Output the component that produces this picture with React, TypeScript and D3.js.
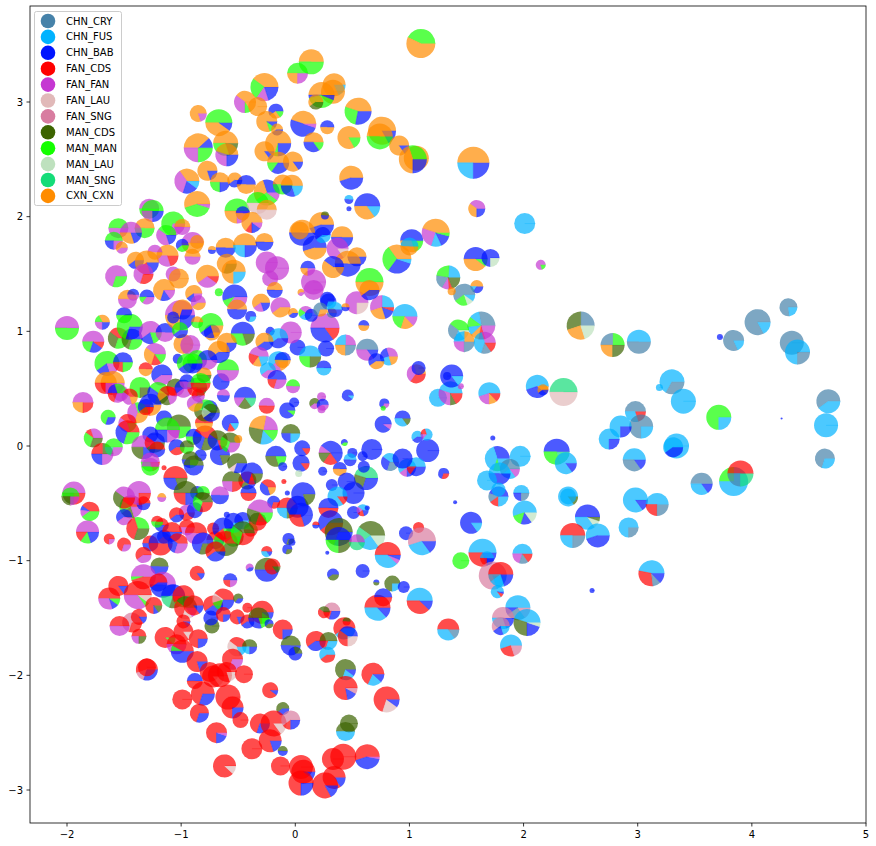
import React from "react";
import * as d3 from "d3";

const categories = ["CHN_CRY","CHN_FUS","CHN_BAB","FAN_CDS","FAN_FAN","FAN_LAU","FAN_SNG","MAN_CDS","MAN_MAN","MAN_LAU","MAN_SNG","CXN_CXN"];
const codes = ["A","F","B","R","P","L","S","D","G","W","T","O"];
const colours = ["#4682A9","#00B2FF","#0014FF","#FF0000","#C537D2","#E1B9B9","#D87CA0","#3C6400","#14FF00","#BEE1BE","#14DC78","#FF8C00"];
const xTicks = [-2,-1,0,1,2,3,4,5];
const yTicks = [-3,-2,-1,0,1,2,3];

type Row = [number, number, number, string];

// each row: x, y, weight, composition (code + share, anticlockwise from 3 o'clock)
const denseExtra: Row[] = [
[-1.59,-.01,9,"G50T20P30"],[-1.47,.12,12,"R40B30G30"],[-1.33,-.01,12,"P50D25B25"],[-1.23,.03,10,"B40R20D40"],[-1.21,-.03,8,"R50B50"],[-1.04,-.01,8,"B60R40"],[-.95,-.01,7,"D50G50"],[-1.27,-.14,9.5,"P50G30R20"],[-.92,-.12,8.5,"D50B25G25"],[-.68,.05,10,"D40B40R20"],[-.57,.03,10,"D40G30P30"],[-.50,.06,4,"O100"],[-.95,.72,10,"G60B40"],[-.89,1.33,8.5,"O60B20P20"],[-.85,1.25,7.5,"P60O40"],[-.86,1.08,6,"O50G50"],[-1.01,1.01,8,"G60B40"],[-1.07,1.12,6,"B100"],[-1.31,.34,8,"B60R40"],[-1.12,.44,9.5,"R40O20D20P20"],[-.95,.56,7.5,"B50P50"],[-.83,.55,10,"G50R50"],[-.85,.44,6.5,"R60P40"],[-.88,.37,8,"P60O40"],[-.74,.29,9,"D40W20B40"],[-1.56,.46,9.5,"G30B20R20P30"],[-1.45,.43,8,"R40P40O20"],[-.95,-.58,8,"P60R40"],[-.86,-.41,7,"B50G50"],[-.81,-.41,7,"G50D50"],[-.42,-.30,9,"R60D20B20"],[-.46,-.65,8.5,"B60F40"],[-.39,-.73,7,"G50R50"],[-.33,-.66,9,"D50R50"],[-.72,-.72,6,"R100"],[-1.17,-.69,7,"R50B50"],[-.95,-.71,8,"R50P50"],[-1.15,-.79,7,"B60R40"],[-1.27,-.85,8,"R50B50"],[-.54,-.79,10,"R60G20D20"],[-.70,-.82,9,"R50L20B30"],
];
const denseLower: Row[] = [
[-1.94,-.41,11.5,"P50D25R25"],[-1.97,-.44,9,"G50D25P25"],[-1.80,-.57,9.5,"R40B8P12G40"],[-1.82,-.75,11.5,"P50R15G15B20"],[-1.63,-.81,5.5,"R75P25"],[-1.17,-.45,4.5,"O50P50"],[-1.44,-.53,11.5,"R40G20D20P20"],[-1.33,-.50,7,"R50B50"],[-1.50,-.62,8,"B60P40"],[-1.38,-.72,11.5,"G30R40D30"],[-1.21,-.66,6,"R50G50"],[-1.08,-.75,10,"R50B50"],[-1.04,-.60,7.5,"R60B40"],[-.88,-.56,8,"B100"],[-.87,-.76,11,"R50P50"],[-.81,-.85,11,"B70D30"],[-1.18,-.85,12,"B50R50"],[-1.50,-.86,7,"R70P30"],[-1.03,-.85,10,"R40B30P30"],[-.06,-.81,6,"B70D30"],[-1.27,-.18,9,"P50G50"],[-1.37,-.41,12,"P75R25"],[-1.50,-.45,11,"P40D30R30"],
[-1.05,-.28,12,"R50B30D20"],[-.96,-.41,12,"D50R25B25"],[-.81,-.49,10,"D40G30R30"],[-.89,-.17,10,"D50B50"],[-.66,-.43,9,"P50B50"],[-.60,-.60,3,"B100"],[-1.15,-.19,2.5,"R100"],[-.55,-.31,10.5,"D50P25R25"],[-.38,-.24,11,"B70R10D20"],[-.51,-.15,10,"D60L10B30"],[-.41,-.41,8,"B50R50"],[-.24,-.36,8,"R40B40O20"],[-.07,-.41,2.5,"B100"],[-.10,-.31,2.5,"R100"],[-.19,-.49,6.5,"B70R30"],[-.31,-.58,13,"P45D25R15G15"],[-.07,-.54,10.5,"R50F25D25"],[.02,-.53,11,"B100"],[-.54,-.67,10,"B70F30"],[-.63,-.72,11,"B60R20G20"],[-.61,-.85,12.5,"R40G25D35"],[-.46,-.76,12,"D40G30R30"],[-.70,-.92,10,"R60B40"],[-1.33,-.95,8,"R60P40"],
];
const lowerLeft: Row[] = [
[-1.19,-1.05,9,"D50B50"],[-.86,-1.11,7.5,"R85B15"],[-.57,-1.17,7,"B50R25P25"],[-.25,-1.08,12,"D50B50"],[-.20,-1.05,8,"R85D15"],[-.40,-1.06,4,"P60B40"],[-.25,-.92,5.5,"R50F35B15"],[-.07,-.90,5,"B70D30"],[-1.33,-1.14,12.5,"P50G5R45"],[-1.55,-1.22,10,"R85B15"],[-1.63,-1.33,11,"R50P30B10G10"],[-1.38,-1.30,14,"R50P35G5L10"],[-1.16,-1.21,13,"P50B50"],[-1.20,-1.19,9,"R60B40"],[-1.43,-1.54,10,"S70R30"],[-1.37,-1.49,8,"R85B15"],[-1.54,-1.57,10,"R50P50"],[-1.37,-1.66,7.5,"R50P25D25"],[-1.24,-1.39,8.5,"R75B10D15"],[-1.07,-1.31,12,"B50T20D15R15"],[-.98,-1.31,11,"R60G15D25"],[-.96,-1.41,11.5,"D40R30L15P15"],[-.89,-1.39,10,"R85B15"],[-1.14,-1.67,10.5,"R90G10"],[-1.04,-1.73,10,"R50P50"],[-.99,-1.79,11.5,"R42G8B50"],[-.98,-1.53,7,"R85B15"],[-.98,-1.62,10,"R85L15"],[-.85,-1.68,9.5,"R75B25"],[-.73,-1.57,7.5,"D100"],[-.74,-1.50,7.5,"B100"],[-.72,-1.39,10,"R60B40"],[-.63,-1.34,11,"R40L15G15B30"],[-.63,-1.47,7.5,"R75B25"],[-.50,-1.33,5,"D65B35"],[-.51,-1.49,7.5,"R80B20"],[-.42,-1.41,5,"R100"],[-.42,-1.53,7,"R60B40"],[-.29,-1.45,11.5,"R75G15B10"],[-.32,-1.50,10.5,"D50B30G20"],[-.23,-1.55,4.5,"B60D40"],[-.11,-1.60,10,"R75B25"],[-.51,-1.75,9.5,"R40L40F20"],[-.40,-1.75,7.5,"D50F25B25"],[-.55,-1.86,10.5,"R70P30"],[-.86,-1.88,10.5,"R80B20"],[-1.30,-1.95,11,"R55S15B30"],[-1.30,-1.93,9,"R100"],[-.75,-1.97,10,"R100"],[-.72,-2.01,11,"R85L15"],[-.66,-2.0,12,"R100"],[-.60,-1.97,10,"R80L20"],[-.45,-1.99,9,"R100"],[-.88,-2.05,8,"B50R50"],[-.81,-2.16,12,"R70B30"],[-.99,-2.21,10,"R100"],[-.59,-2.19,12.5,"R100"],[-.55,-2.28,11,"R75B25"],[-.84,-2.33,9.5,"R70B30"],[-.48,-2.39,8,"R100"],[-.22,-2.13,8,"R90B10"],[-.11,-2.29,6.5,"D60B40"],[-.31,-2.42,10,"R70B30"],[-.19,-2.42,13,"R85L15"],[-.22,-2.57,11.5,"R80B20"],[-.11,-2.66,5,"D50B50"],[-.38,-2.64,10.5,"R100"],[-.69,-2.50,10.5,"R75B20P5"],[-.62,-2.79,11.5,"R88L12"],[-.13,-2.79,9.5,"R100"],
];
const lowerRight: Row[] = [
[1.64,-.93,14,"F50R30B20"],[1.68,-.98,7,"F50R25B25"],[1.99,-.94,10,"F50P20A15R15"],[1.45,-1.0,8.5,"G100"],[1.73,-1.13,14,"S80F20"],[1.80,-1.12,12.5,"R50A10F20B20"],[1.77,-1.27,6.5,"F85R10B5"],[1.95,-1.41,12.5,"F50B10A25S15"],[2.03,-1.54,13.5,"F45D30B20W5"],[1.82,-1.50,11,"S50F30B20"],[1.80,-1.57,9,"S60B20F20"],[1.89,-1.74,11,"F55R25S20"],[1.34,-1.60,11,"R50F35A15"],[1.09,-1.35,13,"F50R38B12"],[.59,-1.09,7,"B100"],[.33,-1.12,6,"B60D40"],[.71,-1.19,3,"B50D50"],[.85,-1.20,8,"D75F25"],[.95,-1.23,6,"B100"],[.72,-1.41,13,"R50F37B13"],[.77,-1.32,9,"B50R50"],[.43,-1.59,11,"R60F40"],[.45,-1.53,4,"D50R50"],[.46,-1.66,10,"B40R35L25"],[.32,-1.44,8.5,"S50R20B30"],[.25,-1.45,6,"D40R60"],[.18,-1.70,10,"R60B40"],[.29,-1.70,9,"D50R20F30"],[.28,-1.82,8,"F60R40"],[-.04,-1.74,10,"D50B50"],[0,-1.81,7,"D30B70"],[.44,-1.95,10.5,"D70F20B10"],[.68,-1.99,11.5,"R68F20B12"],[.44,-2.11,12,"R78B14S8"],[.80,-2.21,13,"R70L20B10"],[.47,-2.42,9,"D100"],[.44,-2.49,9.5,"D50F50"],[.63,-2.71,12.5,"R55B42P3"],[.42,-2.71,13,"R100"],[.33,-2.73,11,"R100"],[.34,-2.89,11.5,"R85B15"],[.26,-2.96,13,"R83B17"],[.05,-2.80,12,"R100"],[.07,-2.84,12,"R90B10"],[.05,-2.94,12.5,"R75B25"],[-.04,-2.39,9.5,"S60R15B25"],
];
const centre: Row[] = [
[1.16,-.04,11.5,"B100"],[.98,-.19,9,"F60P15B25"],[1.06,-.18,9.5,"F50R15B35"],[.83,-.14,9,"F40B30A30"],[.94,-.11,10,"B100"],[.94,.24,8,"B50F35D15"],[.77,.19,8.5,"B90P10"],[.78,.37,5,"B70P30"],[.77,.33,2.5,"G100"],[.46,.44,6,"B90F10"],[.17,.37,5.5,"D60P40"],[.23,.43,4.5,"P100"],[.24,.36,6,"B60P40"],[.23,.32,4,"P100"],[1.07,.08,6,"F60B40"],[1.15,.10,6,"F30R20P15F35"],[.67,-.03,10.5,"B100"],[.50,-.06,5,"B100"],[.48,-.12,6.5,"F50B50"],[.59,-.09,5,"B100"],[.43,.03,3.5,"B60G40"],[.31,-.06,12,"B40P10D15R20B15"],[.06,-.02,8,"B85R15"],[.05,-.15,8.5,"B85R15"],[.39,-.20,7,"B50O50"],[.24,-.22,4.5,"B100"],[.03,-.24,3.5,"W100"],[.62,-.28,12,"T45D25B30"],[.60,-.18,6,"B100"],[.45,-.31,9,"B100"],[.32,-.34,6,"B100"],[.51,-.41,11,"B100"],[.07,-.42,12,"B80D20"],[.05,-.60,12,"B50R30B20"],[.37,-.44,10,"F85R15"],[.29,-.54,10,"B50R50"],[.31,-.67,12.5,"B60R40"],[.38,-.75,14,"D70B30"],[.38,-.82,13,"B50G25D25"],[.51,-.58,6.5,"B100"],[.59,-.56,6,"F40P20R20B20"],[.63,-.54,2.5,"B100"],[.18,-.69,3.5,"R50B50"],[.66,-.78,14.5,"D40T20F25W15"],[.97,-.76,7,"B100"],[1.08,-.71,5.5,"R100"],[1.11,-.83,14,"S55F30B15"],[.28,-.93,2,"B100"],[.81,-.95,13,"R50F38P6B6"],[.54,-.84,8,"P50T50"],[-.03,-.84,3.5,"B100"],[1.30,-.24,5.5,"B70R30"],[1.40,-.49,2,"B100"],[1.54,-.67,11,"B85F15"],[1.25,.42,9,"F100"],[1.36,.46,12,"F45P30D8R17"],[1.45,.52,3,"P100"],[1.37,.61,11.5,"B85F15"],[1.33,.61,4,"B100"],[1.06,.63,9.5,"O30P35R35"],[1.08,.68,7,"B100"],[1.70,.46,11,"F55P20O12R13"],[2.12,.52,11.5,"F55B35O10"],[2.17,.49,5.5,"O60B40"],[2.35,.47,14,"T50L50"],[1.73,.07,2.5,"B100"],[1.77,-.11,12.5,"B30F40G10F20"],[1.97,-.09,10.5,"F100"],[2.29,-.05,13,"B50G30T20"],[2.37,-.15,11,"F85B15"],[1.88,-.20,10,"A60F25P15"],[1.79,-.24,11,"F50B50"],[1.68,-.30,10,"F100"],[1.78,-.44,10,"B45A15R15F25"],[1.78,-.38,7,"F100"],[1.98,-.41,8,"F50B25A25"],[2.01,-.58,12,"F55G15B15W15"],[2.39,-.44,10,"F85D15"],[2.39,-.44,8,"F100"],
];
const farRight: Row[] = [
[2.50,1.05,14,"A25D30O25W20"],[2.78,.88,12,"G25A25O25D25"],[3.01,.91,12,"F50A50"],[4.32,1.21,9,"A77F23"],[4.05,1.08,13,"A83F17"],[3.84,.92,10.5,"A82F18"],[3.72,.95,3,"B100"],[4.35,.90,12,"A100"],[4.40,.82,12.5,"F75A25"],[3.30,.56,12.5,"F67A33"],[3.19,.51,3.5,"F100"],[3.40,.39,12.5,"F100"],[3.71,.25,12.5,"G75F25"],[4.67,.39,12,"A60F40"],[4.65,.18,12,"F100"],[4.26,.24,1,"B100"],[4.64,-.11,10,"A70F30"],[2.98,.30,10.5,"A50F30R20"],[3.03,.17,12,"A75F25"],[2.85,.17,11,"F75B25"],[2.75,.06,10.5,"F75B25"],[3.34,0,12.5,"F100"],[3.31,-.01,10,"F60B40"],[2.97,-.12,11.5,"F50A35B15"],[3.56,-.33,11,"A50F35B15"],[3.84,-.31,14.5,"F25G25F50"],[3.90,-.24,13,"R50A25T25"],[2.98,-.47,12.5,"F85B15"],[3.17,-.51,11.5,"F50R25A25"],[2.56,-.62,12.5,"B50F35W10D5"],[2.65,-.78,12,"F55B45"],[2.43,-.78,12.5,"R50F25A25"],[2.92,-.71,10,"F75A25"],[3.12,-1.11,13,"F47R30A10B13"],[2.60,-1.26,2.5,"B100"],
];
const upperRight: Row[] = [
[1.10,3.51,14.5,"G43O57"],[.14,3.35,12.5,"O50G50"],[.02,3.25,10.5,"G50O25P25"],[.34,3.15,11.5,"O82F18"],[.33,3.09,12,"O100"],[.23,3.06,13,"O50B4G40B6"],[.18,3.0,7.5,"O60D40"],[.55,2.92,13.5,"O45G27B28"],[.07,2.81,13,"O45B50P5"],[.28,2.78,7,"B50O50"],[.47,2.69,11.5,"O83G17"],[.76,2.75,14,"O83B17"],[.74,2.70,13,"O50G50"],[.91,2.62,10,"O85B15"],[1.06,2.51,12.5,"O100"],[1.03,2.50,14,"G30O45B25"],[1.56,2.47,16,"O50F25B25"],[.16,2.65,10,"O50B35G15"],[-.02,2.48,10,"O85B15"],[.49,2.34,12,"O55B45"],[-.03,2.27,11,"O50B30F20"],[.63,2.09,13,"B50O35F15"],[.47,2.15,4.5,"F50B50"],[.47,2.07,2.5,"B100"],[1.59,2.07,8.5,"P40O35B25"],[2.01,1.94,10.5,"F100"],[2.15,1.58,5,"P80G20"],[.23,1.93,12.5,"O55B45"],[.26,2.01,4,"D50B50"],[.06,1.86,13,"O50B50"],[.04,1.88,9,"O100"],[.17,1.73,12,"B55O45"],[.24,1.84,8,"B60F40"],[.41,1.82,11,"O50B50"],[.37,1.72,11,"P85L15"],[1.02,1.79,11.5,"B50O30G20"],[1.0,1.74,9,"F50O50"],[.89,1.63,14.5,"O35G30B30F5"],[.54,1.65,9.5,"O50B50"],[.46,1.59,13,"O50B50"],[.33,1.56,11,"B40O60"],[.65,1.43,14,"G50O50"],[.16,1.43,12.5,"P100"],[.11,1.55,7.5,"B50O25P25"],[.05,1.34,3.5,"O60P40"],[.28,1.28,7.5,"B100"],[1.23,1.86,14,"O45P25F12B14G4"],[1.58,1.63,12,"B50O40G10"],[1.71,1.64,9,"B75W25"],[1.34,1.47,12,"F25G25A20P10R5D20"],[1.59,1.39,6.5,"O50F15B35"],[1.48,1.32,11,"A60G20W10F10"],[1.37,1.35,4,"O100"],[1.63,1.05,14,"A28F12G12F10O10R8P20"],[1.43,1.01,10.5,"G40A30F15W15"],[1.48,.91,10.5,"O25F25P25A25"],[1.66,.90,11,"P30F40A15R15"],[.96,1.13,12.5,"F50G20O17P13"],[.76,1.21,12,"F25P30O25B15R5"],[.54,1.25,11.5,"P75L25"],[.63,.84,11,"A50P35B15"],[.44,.88,10.5,"P25F25O25A25"],[.26,1.03,14.5,"P50B35R15"],[.27,.85,8,"B100"],[.02,.86,8,"B100"],[-.04,.99,11,"P100"],[.60,1.05,5.5,"B50O50"],[.13,.78,11,"F50G25D25"],[.25,.68,7.5,"B50F50"],[.82,.78,9,"P30B25F25O20"],[.71,.74,8,"B60O40"],[.09,1.16,7,"P40G20F40"],[.14,1.14,6.5,"B100"],[.29,1.26,8,"B70F30"],[.22,1.19,7,"A70O30"],[.32,1.16,5,"O50A50"],[.35,1.19,7.5,"F50B50"],[.44,1.21,4,"O50B50"],[-.02,1.16,5,"O60B40"],[.16,1.36,10,"P100"],[.65,1.36,10,"O60B40"],
];
const upperLeft: Row[] = [
[-.27,3.13,14,"O40G25P15B20"],[-.44,3.0,11,"O40P35G10O15"],[-.85,2.90,8.5,"O80P20"],[-.67,2.82,13.5,"G50O40B10"],[-.33,2.96,9.5,"O100"],[-.17,2.92,7.5,"B60O25G15"],[-.25,2.83,10.5,"O80G10B10"],[-.16,2.76,6,"O60B40"],[-.85,2.60,14.5,"B12O38P25G25"],[-.61,2.64,12.5,"O50G30D20"],[-.60,2.54,11.5,"O45P30B25"],[-.77,2.40,10,"O80B20"],[-.27,2.57,10,"O85B15"],[-.15,2.64,13,"O70G5B25"],[-.15,2.47,11,"O50G15B35"],[-.95,2.31,12.5,"O35P35B20F10"],[-.66,2.30,10,"O50G25B25"],[-.53,2.32,7.5,"O60B40"],[-.43,2.28,9.5,"B50O50"],[-.86,2.11,13,"O55G40P5"],[-.25,2.21,13,"B30O30G30P10"],[-.11,2.28,10,"O50G50"],[-.51,2.05,12.5,"G50O25P25"],[-.46,2.03,7,"B50O50"],[-.33,2.12,11,"G50L50"],[-.38,1.95,10.5,"O65R10B15P10"],[-.25,2.06,10,"O50L50"],[-1.28,2.07,10,"P50G50"],[-1.25,2.05,11,"G50P25B25"],[-1.55,1.90,10,"G50P50"],[-1.32,1.90,10,"O50G50"],[-1.44,1.86,11,"P50O30B20"],[-1.07,1.94,12,"G70P30"],[-.99,1.91,8,"O50P50"],[-1.13,1.84,10,"G40P40B20"],[-1.59,1.79,9,"G50B25P25"],[-1.52,1.73,6,"O60P40"],[-1.40,1.62,8.5,"O60B40"],[-.90,1.77,11,"P50O50"],[-.86,1.78,7,"O100"],[-.99,1.75,6.5,"B60G40"],[-1.12,1.66,11,"O50P30R20"],[-1.23,1.69,7.5,"P50O50"],[-1.30,1.60,12,"O60R20B20"],[-1.33,1.50,10,"P70R30"],[-1.57,1.48,11,"P70G30"],[-.90,1.65,8,"O50P50"],[-.61,1.73,10,"O50B50"],[-.73,1.71,4,"O50B50"],[-.44,1.75,12,"O50F25B25"],[-.27,1.78,9,"O50B50"],[-.60,1.59,10,"O70D30"],[-.54,1.52,12,"O75F25"],[-.77,1.48,11.5,"O60P30R10"],[-1.07,1.50,7.5,"P100"],[-1.02,1.46,10,"O100"],[-.25,1.60,11,"P100"],[-.16,1.55,12,"P100"],[-.22,1.46,8,"P100"],
];
const denseUpper: Row[] = [
[-2.0,1.03,12,"P50G50"],[-1.69,1.08,7.5,"O33G17P25B25"],[-1.77,.91,11,"P50G20B20R10"],[-1.65,.72,12.5,"G60B20P20"],[-1.55,.94,10.5,"R40D30G30"],[-1.43,.93,10.5,"B40D30G30"],[-1.45,1.04,13,"G70B30"],[-1.50,1.14,8,"B50G50"],[-1.47,1.28,9.5,"O50P50"],[-1.42,1.32,6,"B50P50"],[-1.30,1.30,7.5,"B50G15P35"],[-1.31,.67,7,"R50O50"],[-1.51,.73,10,"B50R25G25"],[-1.27,.99,11.5,"P60B20G20"],[-1.23,.80,11,"P40O30R15G15"],[-1.14,.99,9.5,"B50P50"],[-1.01,1.14,15,"P50O25B25"],[-.99,1.19,10,"O70B30"],[-1.15,1.36,11,"O70B15P15"],[-1.03,.76,5,"B100"],[-.98,.89,10,"O100"],[-.92,.88,10,"P100"],[-1.17,.62,10.5,"B60P40"],[-1.60,.55,12,"O50R25P25"],[-1.66,.55,11,"O50R25P25"],[-1.86,.38,10.5,"P50O25R25"],[-1.64,.25,7.5,"G70B30"],[-1.77,.07,9.5,"P30R10G30D30"],[-1.69,-.07,11,"D25R25B25P25"],[-1.53,.46,8,"P100"],[-1.36,.51,10.5,"G75D25"],[-1.20,.46,11,"G40B30D30"],[-1.27,.36,11,"B50R25O25"],[-1.38,.29,10.5,"G30P40O30"],[-1.47,.20,9,"R40P40G20"],[-1.05,.51,9,"D50R25P25"],[-.98,.50,9,"B60P40"],[-.86,.51,10,"G50R25D25"],[-1.15,.24,8,"B60P40"],[-1.02,.17,12,"D50P25G25"],[-1.12,.14,12.5,"G50B25P25"],[-1.27,.10,8,"B100"],[-.89,.08,8,"B50G25D25"],[-.79,.07,12.5,"R40B30D30"],[-.66,-.08,10,"B80D20"],[-.57,.20,8.5,"B70R15F15"],[-.83,-.08,6,"B100"],[-.80,.20,9,"R50O50"],[-.75,.33,8,"B100"],[-.79,.31,11,"G50D50"],[-.65,.56,8.5,"B100"],[-.59,.66,11,"G50P50"],[-.63,.44,6.5,"P50B50"],[-.73,.99,8,"B60O40"],[-.74,1.05,12.5,"G60B20O20"],[-.46,.98,12,"B50G30D20"],[-.60,.90,10,"O75B25"],[-.67,.82,11,"O60B40"],[-.86,.75,10,"G50B50"],[-.77,.75,10,"B50P50"],[-.80,.62,7.5,"O50D50"],[-.90,.72,10,"G70B30"],[-.53,1.30,12.5,"B55G10P35"],[-.51,1.19,10,"O50B50"],[-.30,1.25,9,"O60P20B20"],[-.39,1.13,5.5,"B70F30"],[-.13,1.21,10,"P60O40"],[-.18,1.36,8,"O50B50"],[-.67,1.34,4,"G100"],[-.22,1.0,4.5,"B100"],[-.15,.94,10,"F60B40"],[-.27,.91,9,"O60B40"],[-.32,.78,10,"P45R20O15F20"],[-.15,.74,10,"F60P20O20"],[-.11,.75,8,"B50O50"],[-.24,.66,8,"F60P40"],[-.16,.58,9.5,"B50R20P30"],[-.02,.52,7,"G50P50"],[-.44,.42,11,"B50P15D20T15"],[-.25,.35,8,"P50R50"],[-.07,.31,8,"B90G10"],[-.01,.38,5,"B100"],[-.28,.14,14.5,"P22O25D25F15G13"],[-.04,.11,9.5,"D50B25F25"],[-.17,-.09,10.5,"B50D30G20"],[-.11,-.18,4.5,"B100"],
];
const groups = [upperLeft, upperRight, denseUpper, denseExtra, denseLower, lowerLeft, lowerRight, centre, farRight];

const W = 876, H = 846;
const x = d3.scaleLinear().domain([-2, 5]).range([67, 866]);
const y = d3.scaleLinear().domain([-3, 3]).range([790, 102]);
const r = d3.scaleLinear().domain([0, 20]).range([0, 20]);
const arc = d3.arc<any>().innerRadius(0);
const colourOf = d3.scaleOrdinal<string, string>().domain(codes).range(colours);

function parseMix(m: string) {
  return Array.from(m.matchAll(/([A-Z])(\d+)/g)).map((t) => ({ code: t[1], share: +t[2] }));
}

function Pie({ row }: { row: Row }) {
  const [px, py, w, mix] = row;
  const parts = parseMix(mix);
  const total = d3.sum(parts, (p) => p.share);
  const R = r(w);
  const cum = Array.from(d3.cumsum(parts, (p) => p.share));
  return (
    <g transform={`translate(${x(px)},${y(py)})`}>
      {parts.map((p, i) => {
        const a0 = ((i ? cum[i - 1] : 0) / total) * 2 * Math.PI;
        const a1 = (cum[i] / total) * 2 * Math.PI;
        const d = arc({ outerRadius: R, startAngle: Math.PI / 2 - a0, endAngle: Math.PI / 2 - a1 });
        const c = colourOf(p.code);
        return (
          <g key={i}>
            <path d={d as string} fill={c} fillOpacity={0.7} />
            <line x1={0} y1={0} x2={R * Math.cos(a0)} y2={-R * Math.sin(a0)} stroke={c} strokeOpacity={0.45} strokeWidth={0.7} />
          </g>
        );
      })}
    </g>
  );
}

const font = "'DejaVu Sans', sans-serif";

export default function App() {
  return (
    <svg width={W} height={H} style={{ position: "absolute", left: 0, top: 0, background: "#fff" }} fontFamily={font} fontSize={10}>
      <defs>
        <clipPath id="plot"><rect x={30} y={6} width={836} height={817} /></clipPath>
      </defs>
      <g clipPath="url(#plot)">
        {groups.map((g, gi) => <g key={gi}>{g.map((row, i) => <Pie key={i} row={row} />)}</g>)}
      </g>
      <rect x={30} y={6} width={836} height={817} fill="none" stroke="#000" strokeWidth={0.8} />
      {xTicks.map((t) => (
        <g key={t} transform={`translate(${x(t)},823)`}>
          <line y2={3.5} stroke="#000" strokeWidth={0.8} />
          <text y={15} textAnchor="middle" fill="#000">{d3.format("d")(t).replace("-", "\u2212")}</text>
        </g>
      ))}
      {yTicks.map((t) => (
        <g key={t} transform={`translate(30,${y(t)})`}>
          <line x2={-3.5} stroke="#000" strokeWidth={0.8} />
          <text x={-7} dy="0.35em" textAnchor="end" fill="#000">{d3.format("d")(t).replace("-", "\u2212")}</text>
        </g>
      ))}
      <rect x={34.5} y={11.5} width={87} height={194} rx={2} fill="#fff" fillOpacity={0.8} stroke="#ccc" strokeWidth={1} />
      {categories.map((c, i) => (
        <g key={c} transform={`translate(0,${21 + i * 15.9})`}>
          <circle cx={48} cy={0} r={7.3} fill={colours[i]} />
          <text x={66} dy="0.35em" fill="#000">{c}</text>
        </g>
      ))}
    </svg>
  );
}
